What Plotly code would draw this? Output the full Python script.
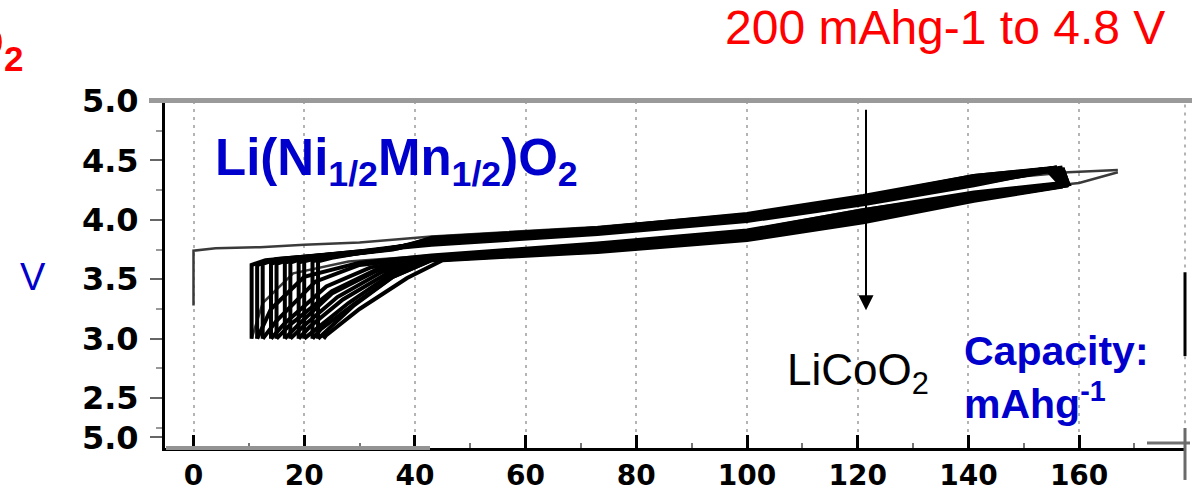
import plotly.graph_objects as go

# ---------------- data ----------------
# capacity in mAh/g, voltage in V ; one list per cycle
charge_cap = [
    [0, 0, 4, 12, 20, 30, 43, 73, 100, 121, 141, 158, 167],
    [10.5, 10.5, 13, 20, 30, 43, 73, 100, 121, 141, 156],
    [11.5, 11.5, 14, 21, 30, 43, 73, 100, 121, 141, 157],
    [12.5, 12.5, 15, 22, 30, 43, 73, 100, 121, 141, 157],
    [14, 14, 16.5, 23, 31, 43, 73, 100, 121, 141, 156],
    [15, 15, 17.5, 24, 32, 43, 73, 100, 121, 141, 157],
    [16.5, 16.5, 19, 25, 33, 43, 73, 100, 121, 141, 155],
    [17.5, 17.5, 20, 26, 34, 43, 73, 100, 121, 141, 156],
    [19, 19, 21.5, 27, 35, 43, 73, 100, 121, 141, 156],
    [20, 20, 22.5, 28, 36, 43, 73, 100, 121, 141, 155],
    [21.5, 21.5, 24, 29, 36, 43, 73, 100, 121, 141, 155],
    [22.5, 22.5, 25, 30, 37, 43, 73, 100, 121, 141, 154],
]
charge_v = [
    [3.28, 3.74, 3.76, 3.77, 3.79, 3.81, 3.86, 3.94, 4.05, 4.18, 4.33, 4.40, 4.42],
    [3.00, 3.62, 3.66, 3.69, 3.73, 3.79, 3.88, 3.99, 4.13, 4.29, 4.43],
    [3.00, 3.62, 3.66, 3.69, 3.73, 3.80, 3.89, 4.00, 4.14, 4.30, 4.43],
    [3.00, 3.63, 3.67, 3.70, 3.73, 3.80, 3.89, 4.00, 4.15, 4.31, 4.43],
    [3.00, 3.63, 3.67, 3.70, 3.74, 3.81, 3.90, 4.01, 4.15, 4.32, 4.44],
    [3.00, 3.63, 3.67, 3.70, 3.74, 3.81, 3.90, 4.01, 4.16, 4.33, 4.44],
    [3.00, 3.64, 3.67, 3.70, 3.74, 3.82, 3.91, 4.02, 4.17, 4.34, 4.43],
    [3.00, 3.64, 3.68, 3.70, 3.75, 3.82, 3.91, 4.03, 4.17, 4.35, 4.44],
    [3.00, 3.64, 3.68, 3.71, 3.75, 3.83, 3.92, 4.03, 4.18, 4.35, 4.44],
    [3.00, 3.65, 3.68, 3.71, 3.75, 3.83, 3.92, 4.04, 4.19, 4.36, 4.43],
    [3.00, 3.65, 3.68, 3.71, 3.76, 3.84, 3.93, 4.04, 4.19, 4.37, 4.43],
    [3.00, 3.65, 3.68, 3.72, 3.76, 3.85, 3.93, 4.05, 4.20, 4.37, 4.43],
]
discharge_cap = [
    [167, 160, 141, 121, 100, 73, 43, 28, 18, 12.5, 10.5],
    [156, 157, 141, 121, 100, 73, 43, 30, 20, 14, 11.5],
    [157, 158, 141, 121, 100, 73, 43, 30, 22, 15, 12.5],
    [157, 158, 141, 121, 100, 73, 43, 32, 24, 16.5, 14],
    [156, 158, 141, 121, 100, 73, 43, 33, 25, 17.5, 15],
    [157, 158, 141, 121, 100, 73, 43, 33, 25, 19, 16.5],
    [155, 157, 141, 121, 100, 73, 43, 34, 26, 20, 17.5],
    [156, 158, 141, 121, 100, 73, 43, 35, 27, 21, 19],
    [156, 158, 141, 121, 100, 73, 43, 35, 28, 22, 20],
    [155, 158, 141, 121, 100, 73, 43, 36, 29, 23, 21.5],
    [155, 158, 141, 121, 100, 73, 43, 36, 29, 24, 22.5],
    [154, 157, 141, 121, 100, 73, 45, 38.6, 30, 24, 23.5],
]
discharge_v = [
    [4.40, 4.31, 4.22, 4.09, 3.91, 3.80, 3.70, 3.65, 3.55, 3.30, 3.00],
    [4.43, 4.31, 4.23, 4.08, 3.91, 3.80, 3.70, 3.64, 3.52, 3.25, 3.00],
    [4.43, 4.31, 4.22, 4.07, 3.90, 3.79, 3.69, 3.62, 3.48, 3.15, 3.00],
    [4.43, 4.30, 4.21, 4.06, 3.89, 3.78, 3.68, 3.60, 3.44, 3.13, 3.00],
    [4.44, 4.30, 4.21, 4.05, 3.88, 3.78, 3.68, 3.58, 3.40, 3.12, 3.00],
    [4.44, 4.30, 4.20, 4.04, 3.87, 3.77, 3.68, 3.57, 3.38, 3.12, 3.00],
    [4.43, 4.30, 4.19, 4.03, 3.86, 3.76, 3.67, 3.56, 3.35, 3.11, 3.00],
    [4.44, 4.30, 4.19, 4.02, 3.86, 3.76, 3.67, 3.55, 3.33, 3.10, 3.00],
    [4.44, 4.30, 4.18, 4.01, 3.85, 3.75, 3.67, 3.52, 3.30, 3.08, 3.00],
    [4.43, 4.29, 4.17, 4.00, 3.84, 3.74, 3.66, 3.52, 3.29, 3.08, 3.00],
    [4.43, 4.29, 4.17, 4.00, 3.84, 3.74, 3.66, 3.52, 3.28, 3.07, 3.00],
    [4.43, 4.28, 4.16, 3.98, 3.83, 3.73, 3.66, 3.51, 3.25, 3.03, 3.00],
]

x_tickvals = [0, 20, 40, 60, 80, 100, 120, 140, 160]
x_ticktext = ["0", "20", "40", "60", "80", "100", "120", "140", "160"]
y_tickvals = [2.17, 2.5, 3.0, 3.5, 4.0, 4.5, 5.0]
y_ticktext = ["5.0", "2.5", "3.0", "3.5", "4.0", "4.5", "5.0"]

arrow_cap = 121.5
arrow_v_from = 4.94
arrow_v_to = 3.24

# ---------------- layout geometry (pixels) ----------------
W, H = 1192, 493
L, R, T, B = 165, 1186, 100.5, 448


def px(x):
    return (x - L) / (R - L)


def py(y):
    return (B - y) / (B - T)


fig = go.Figure()

for i in range(len(charge_cap)):
    col = "#3a3a3a" if i == 0 else "black"
    wid = 2.5 if i == 0 else 4
    fig.add_trace(go.Scatter(x=charge_cap[i], y=charge_v[i], mode="lines",
                             line=dict(color=col, width=wid), hoverinfo="skip"))
    fig.add_trace(go.Scatter(x=discharge_cap[i], y=discharge_v[i], mode="lines",
                             line=dict(color=col, width=wid), hoverinfo="skip"))

fig.update_xaxes(
    range=[(L - 193.5) / 5.535, (R - 193.5) / 5.535],
    automargin=False,
    tickvals=x_tickvals, ticktext=x_ticktext,
    ticks="inside", ticklen=13, tickwidth=3, tickcolor="black",
    tickfont=dict(family="DejaVu Sans", size=28, color="black", weight="bold"),
    ticklabelstandoff=0,
    showline=True, linecolor="black", linewidth=3,
    showgrid=True, gridcolor="#b4b4b4", gridwidth=2, griddash="3px,5px",
    zeroline=False,
    minor=dict(dtick=10, tick0=0, ticks="inside", ticklen=5, tickwidth=2,
               tickcolor="#777", showgrid=False),
)
fig.update_yaxes(
    range=[2.08, 5.0],
    automargin=False,
    tickvals=y_tickvals, ticktext=y_ticktext,
    ticks="outside", ticklen=12, tickwidth=2, tickcolor="#666",
    tickfont=dict(family="DejaVu Sans", size=32, color="black", weight="bold"),
    ticklabelstandoff=5,
    showline=True, linecolor="black", linewidth=3,
    showgrid=False, zeroline=False,
    minor=dict(dtick=0.25, tick0=2.5, ticks="outside", ticklen=6, tickwidth=2,
               tickcolor="#999"),
)

shapes = [
    dict(type="line", xref="paper", yref="paper", x0=px(149), x1=px(1192),
         y0=py(100), y1=py(100), line=dict(color="#9a9a9a", width=5)),
    dict(type="line", xref="paper", yref="paper", x0=px(166), x1=px(430),
         y0=0, y1=0, line=dict(color="#939393", width=4)),
    dict(type="line", xref="paper", yref="paper", x0=px(1147), x1=px(1190),
         y0=py(443), y1=py(443), line=dict(color="#707070", width=3)),
    dict(type="line", xref="paper", yref="paper", x0=px(1185), x1=px(1185),
         y0=py(272), y1=py(356), line=dict(color="black", width=3)),
    dict(type="line", xref="paper", yref="paper", x0=px(1185), x1=px(1185),
         y0=py(428), y1=py(480), line=dict(color="#6a6a6a", width=3)),
    dict(type="line", xref="paper", yref="paper", x0=px(1185), x1=px(1185),
         y0=py(104), y1=py(272), line=dict(color="#b4b4b4", width=2, dash="3px,5px")),
    dict(type="line", xref="paper", yref="paper", x0=px(1185), x1=px(1185),
         y0=py(356), y1=py(428), line=dict(color="#b4b4b4", width=2, dash="3px,5px")),
]

blue = "#0000CC"
red = "#FF0000"
P = dict(xref="paper", yref="paper", showarrow=False, borderpad=0)
annotations = [
    dict(text="200 mAhg-1 to 4.8 V", x=px(724), y=py(27), xanchor="left", yanchor="middle",
         font=dict(family="Liberation Sans", size=48, color=red), **P),
    dict(text="<b>O<sub>2</sub></b>", x=px(24), y=py(46), xanchor="right", yanchor="middle",
         font=dict(family="Liberation Sans", size=50, color=red), **P),
    dict(text="V", x=px(19), y=py(277), xanchor="left", yanchor="middle",
         font=dict(family="Liberation Sans", size=38, color=blue), **P),
    dict(text="<b>Li(Ni<sub>1/2</sub>Mn<sub>1/2</sub>)O<sub>2</sub></b>", x=px(214), y=py(161),
         xanchor="left", yanchor="middle",
         font=dict(family="Liberation Sans", size=51, color=blue), **P),
    dict(text="LiCoO<sub>2</sub>", x=px(786), y=py(373), xanchor="left", yanchor="middle",
         font=dict(family="Liberation Sans", size=44, color="black"), **P),
    dict(text="<b>Capacity:</b>", x=px(963), y=py(351), xanchor="left", yanchor="middle",
         font=dict(family="Liberation Sans", size=41, color=blue), **P),
    dict(text="<b>mAhg<sup>-1</sup></b>", x=px(963), y=py(401), xanchor="left", yanchor="middle",
         font=dict(family="Liberation Sans", size=41, color=blue), **P),
    dict(text="", x=arrow_cap, y=arrow_v_to, ax=arrow_cap, ay=arrow_v_from,
         xref="x", yref="y", axref="x", ayref="y", showarrow=True,
         arrowhead=2, arrowsize=1.5, arrowwidth=2, arrowcolor="black", standoff=0),
]

fig.update_layout(
    width=W, height=H,
    margin=dict(l=L, r=W - R, t=T, b=H - B, pad=0, autoexpand=False),
    plot_bgcolor="white", paper_bgcolor="white",
    showlegend=False,
    shapes=shapes, annotations=annotations,
)

fig.write_html("out.html")
